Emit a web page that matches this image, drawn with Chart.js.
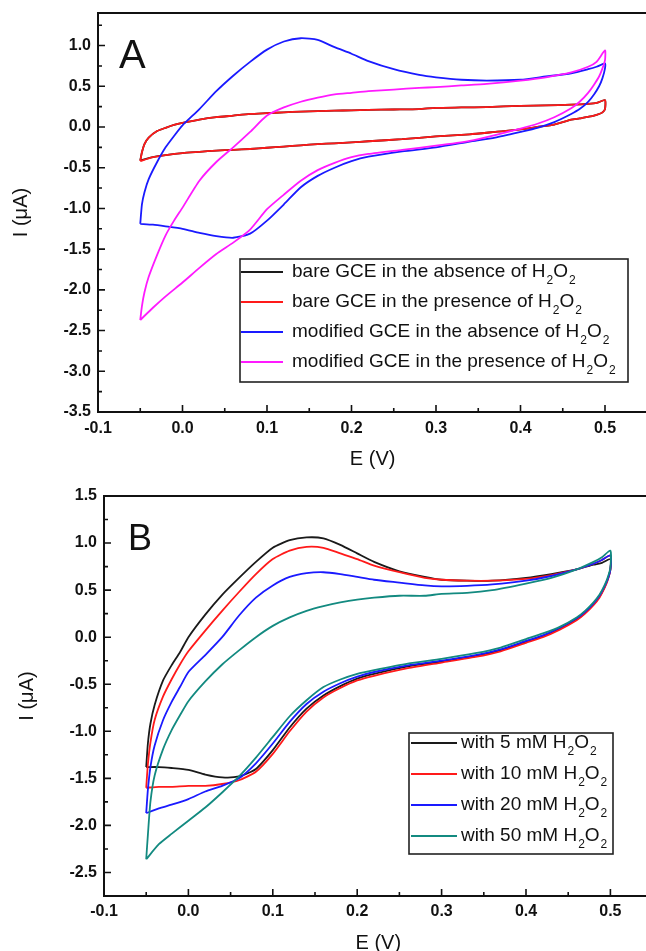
<!DOCTYPE html>
<html>
<head>
<meta charset="utf-8">
<script src="https://cdn.jsdelivr.net/npm/chart.js@4.4.1/dist/chart.umd.min.js"></script>
<style>
html,body{margin:0;padding:0;background:#fff;overflow:hidden;width:646px;height:951px;}
#wa{position:absolute;left:0;top:0;width:646px;height:475px;overflow:hidden;}
#wb{position:absolute;left:0;top:475px;width:646px;height:476px;overflow:hidden;}
canvas{display:block;}
</style>
</head>
<body>
<div id="wa"><canvas id="ca" width="648" height="475" style="width:648px;height:475px"></canvas></div>
<div id="wb"><canvas id="cb" width="653" height="490" style="width:653px;height:490px"></canvas></div>
<script>
// ---------- potential grids (V) ----------
const E_fwd = [-0.05,-0.048,-0.045,-0.04,-0.03,-0.02,-0.01,0.0,0.02,0.04,0.06,0.08,0.1,0.12,0.14,0.16,0.18,0.2,0.22,0.25,0.28,0.3,0.33,0.36,0.4,0.43,0.46,0.48,0.49,0.5];
const E_rev = [0.5,0.497,0.493,0.487,0.48,0.47,0.46,0.44,0.42,0.4,0.37,0.34,0.3,0.26,0.22,0.2,0.18,0.16,0.14,0.12,0.1,0.08,0.06,0.04,0.02,0.0,-0.02,-0.035,-0.05];

// ---------- Panel A currents (µA) ----------
const A_labels = ['bare GCE in the absence of H₂O₂','bare GCE in the presence of H₂O₂','modified GCE in the absence of H₂O₂','modified GCE in the presence of H₂O₂'];
const A_bareAbs_fwd = [-0.41,-0.31,-0.21,-0.13,-0.05,-0.01,0.025,0.05,0.09,0.12,0.14,0.16,0.17,0.18,0.19,0.195,0.2,0.205,0.21,0.215,0.22,0.235,0.24,0.245,0.26,0.265,0.275,0.285,0.295,0.33];
const A_bareAbs_rev = [0.22,0.18,0.16,0.14,0.125,0.105,0.09,0.03,0.0,-0.03,-0.06,-0.09,-0.115,-0.15,-0.175,-0.19,-0.2,-0.21,-0.225,-0.24,-0.255,-0.27,-0.28,-0.29,-0.305,-0.32,-0.345,-0.37,-0.41];
const A_barePres_fwd = [-0.42,-0.31,-0.21,-0.13,-0.05,-0.01,0.025,0.05,0.09,0.12,0.14,0.16,0.17,0.18,0.19,0.195,0.2,0.205,0.21,0.215,0.22,0.235,0.24,0.245,0.26,0.265,0.275,0.285,0.295,0.33];
const A_barePres_rev = [0.22,0.18,0.16,0.14,0.125,0.105,0.09,0.03,0.0,-0.03,-0.06,-0.09,-0.115,-0.15,-0.175,-0.19,-0.2,-0.21,-0.225,-0.24,-0.255,-0.27,-0.28,-0.29,-0.305,-0.32,-0.345,-0.37,-0.42];
const A_modAbs_fwd = [-1.19,-0.95,-0.8,-0.64,-0.43,-0.25,-0.11,0.02,0.22,0.44,0.63,0.8,0.95,1.05,1.09,1.07,0.98,0.9,0.81,0.71,0.64,0.61,0.58,0.57,0.58,0.62,0.66,0.71,0.74,0.78];
const A_modAbs_rev = [0.72,0.6,0.5,0.4,0.31,0.22,0.16,0.06,-0.01,-0.06,-0.13,-0.18,-0.25,-0.3,-0.365,-0.42,-0.5,-0.6,-0.74,-0.95,-1.15,-1.31,-1.36,-1.34,-1.3,-1.25,-1.22,-1.2,-1.19];
const A_modPres_fwd = [-2.37,-2.2,-2.03,-1.84,-1.57,-1.33,-1.15,-0.99,-0.66,-0.43,-0.25,-0.06,0.14,0.24,0.31,0.36,0.4,0.42,0.44,0.46,0.48,0.49,0.51,0.53,0.57,0.61,0.67,0.74,0.8,0.94];
const A_modPres_rev = [0.82,0.72,0.62,0.52,0.42,0.31,0.23,0.12,0.04,-0.02,-0.1,-0.17,-0.23,-0.28,-0.33,-0.37,-0.44,-0.53,-0.66,-0.83,-1.01,-1.26,-1.42,-1.56,-1.73,-1.91,-2.08,-2.22,-2.37];

// ---------- Panel B currents (µA) ----------
const B_labels = ['with 5 mM H₂O₂','with 10 mM H₂O₂','with 20 mM H₂O₂','with 50 mM H₂O₂'];
const B_5_fwd = [-1.38,-1.13,-0.92,-0.72,-0.46,-0.3,-0.16,0.0,0.24,0.45,0.63,0.8,0.95,1.03,1.06,1.05,0.98,0.89,0.8,0.7,0.64,0.61,0.6,0.6,0.63,0.67,0.72,0.77,0.79,0.83];
const B_5_rev = [0.72,0.62,0.53,0.43,0.35,0.26,0.19,0.09,0.01,-0.05,-0.14,-0.2,-0.26,-0.31,-0.39,-0.44,-0.52,-0.62,-0.76,-0.96,-1.2,-1.4,-1.48,-1.49,-1.46,-1.41,-1.39,-1.38,-1.38];
const B_10_fwd = [-1.6,-1.35,-1.12,-0.88,-0.63,-0.45,-0.29,-0.15,0.07,0.28,0.48,0.67,0.83,0.92,0.96,0.95,0.89,0.83,0.76,0.69,0.63,0.61,0.6,0.6,0.62,0.66,0.72,0.78,0.82,0.87];
const B_10_rev = [0.72,0.61,0.52,0.42,0.34,0.25,0.18,0.08,0.0,-0.06,-0.15,-0.21,-0.27,-0.33,-0.41,-0.46,-0.54,-0.64,-0.79,-1.0,-1.24,-1.43,-1.52,-1.56,-1.58,-1.58,-1.59,-1.59,-1.6];
const B_20_fwd = [-1.87,-1.62,-1.38,-1.15,-0.88,-0.69,-0.53,-0.37,-0.19,0.0,0.23,0.42,0.55,0.64,0.68,0.69,0.67,0.64,0.61,0.58,0.55,0.54,0.545,0.56,0.6,0.65,0.72,0.78,0.82,0.87];
const B_20_rev = [0.72,0.62,0.54,0.44,0.36,0.27,0.2,0.1,0.02,-0.04,-0.13,-0.19,-0.25,-0.3,-0.37,-0.42,-0.49,-0.58,-0.71,-0.9,-1.13,-1.34,-1.5,-1.58,-1.64,-1.72,-1.78,-1.82,-1.87];
const B_50_fwd = [-2.36,-2.1,-1.75,-1.47,-1.19,-0.99,-0.83,-0.68,-0.47,-0.29,-0.14,0.0,0.12,0.21,0.28,0.33,0.37,0.4,0.42,0.44,0.44,0.46,0.47,0.5,0.57,0.63,0.72,0.8,0.85,0.92];
const B_50_rev = [0.74,0.64,0.55,0.45,0.37,0.28,0.21,0.11,0.04,-0.02,-0.11,-0.17,-0.23,-0.28,-0.35,-0.39,-0.45,-0.53,-0.67,-0.84,-1.06,-1.28,-1.48,-1.65,-1.81,-1.95,-2.09,-2.2,-2.36];

// ---------- axis settings ----------
const A_xRange = [-0.1, 0.55];
const A_yRange = [-3.5, 1.4];
const B_xRange = [-0.1, 0.55];
const B_yRange = [-2.75, 1.5];
const xTitle = 'E (V)';
const yTitle = 'I (μA)';

// ---------- helpers ----------
function loop(fwd, rev) {
  const pts = [];
  E_fwd.forEach((e, i) => pts.push({x: e, y: fwd[i]}));
  E_rev.forEach((e, i) => pts.push({x: e, y: rev[i]}));
  return pts;
}
function isMult(v, s) { const q = v / s; return Math.abs(q - Math.round(q)) < 1e-6; }
function splitSub(label) {
  const map = {'₀':'0','₁':'1','₂':'2','₃':'3','₄':'4','₅':'5','₆':'6','₇':'7','₈':'8','₉':'9'};
  const parts = [];
  for (const ch of label) {
    const sub = ch in map;
    const t = sub ? map[ch] : ch;
    if (parts.length && parts[parts.length-1].sub === sub) parts[parts.length-1].t += t;
    else parts.push({t, sub});
  }
  return parts;
}

Chart.defaults.font.family = '"Liberation Sans", Arial, Helvetica, sans-serif';
Chart.defaults.color = '#111';

const framePlugin = {
  id: 'frameTicks',
  afterDraw(chart, args, o) {
    const {ctx, chartArea: ca, scales} = chart;
    ctx.save();
    ctx.strokeStyle = '#111';
    ctx.lineWidth = 2;
    ctx.strokeRect(ca.left, ca.top, ca.right - ca.left, ca.bottom - ca.top);
    ctx.lineWidth = 1.6;
    ctx.beginPath();
    scales.x.ticks.forEach(t => {
      const px = scales.x.getPixelForValue(t.value);
      const len = isMult(t.value, 0.1) ? 7 : 4;
      ctx.moveTo(px, ca.bottom); ctx.lineTo(px, ca.bottom - len);
    });
    scales.y.ticks.forEach(t => {
      const py = scales.y.getPixelForValue(t.value);
      const len = isMult(t.value, 0.5) ? 7 : 4;
      ctx.moveTo(ca.left, py); ctx.lineTo(ca.left + len, py);
    });
    ctx.stroke();
    ctx.restore();
  }
};

const legendPlugin = {
  id: 'boxLegend',
  afterDraw(chart, args, o) {
    const ctx = chart.ctx;
    ctx.save();
    ctx.fillStyle = '#fff';
    ctx.fillRect(o.left, o.top, o.right - o.left, o.bottom - o.top);
    ctx.strokeStyle = '#222';
    ctx.lineWidth = 1.6;
    ctx.strokeRect(o.left, o.top, o.right - o.left, o.bottom - o.top);
    chart.data.datasets.forEach((ds, i) => {
      const y = o.top + o.firstRow + i * o.rowGap;
      ctx.strokeStyle = ds.borderColor;
      ctx.lineWidth = 2;
      ctx.beginPath(); ctx.moveTo(o.lineX0, y); ctx.lineTo(o.lineX1, y); ctx.stroke();
      let x = o.textX;
      ctx.fillStyle = '#111';
      ctx.textBaseline = 'middle';
      ctx.textAlign = 'left';
      for (const p of splitSub(ds.label)) {
        if (p.sub) {
          ctx.font = o.subSize + 'px "Liberation Sans", Arial, sans-serif';
          ctx.fillText(p.t, x + 1, y + o.subDrop);
          x += ctx.measureText(p.t).width + 1;
        } else {
          ctx.font = o.fontSize + 'px "Liberation Sans", Arial, sans-serif';
          ctx.fillText(p.t, x, y);
          x += ctx.measureText(p.t).width;
        }
      }
    });
    ctx.restore();
  }
};

const letterPlugin = {
  id: 'panelLetter',
  afterDraw(chart, args, o) {
    const ctx = chart.ctx;
    ctx.save();
    ctx.fillStyle = '#111';
    ctx.font = o.size + 'px "Liberation Sans", Arial, sans-serif';
    ctx.textBaseline = 'alphabetic';
    ctx.textAlign = 'left';
    ctx.fillText(o.text, o.x, o.y);
    ctx.restore();
  }
};

function makeScales(xr, yr, yWidth, xHeight, yTitlePad, xTitlePad, xTickPad) {
  return {
    x: {
      type: 'linear', min: xr[0], max: xr[1],
      grid: {display: false, drawTicks: false, drawOnChartArea: false},
      border: {display: false},
      ticks: {
        stepSize: 0.05, includeBounds: false, autoSkip: false, maxRotation: 0, padding: xTickPad,
        font: {size: 16, weight: 'bold'}, color: '#111',
        callback: v => isMult(v, 0.1) ? v.toFixed(1) : ''
      },
      title: {display: true, text: xTitle, font: {size: 20}, color: '#111', padding: {top: 0, bottom: xTitlePad}},
      afterFit: s => { s.height = xHeight; s.paddingLeft = 0; s.paddingRight = 0; }
    },
    y: {
      type: 'linear', min: yr[0], max: yr[1],
      grid: {display: false, drawTicks: false, drawOnChartArea: false},
      border: {display: false},
      ticks: {
        stepSize: 0.25, includeBounds: false, autoSkip: false, padding: 7,
        font: {size: 16, weight: 'bold'}, color: '#111',
        callback: v => isMult(v, 0.5) ? v.toFixed(1) : ''
      },
      title: {display: true, text: yTitle, font: {size: 20}, color: '#111', padding: {top: yTitlePad, bottom: 0}},
      afterFit: s => { s.width = yWidth; s.paddingTop = 0; s.paddingBottom = 0; }
    }
  };
}

function ds(label, color, data, order) {
  return {label, data, borderColor: color, backgroundColor: color, borderWidth: 1.8,
          showLine: true, pointRadius: 0, tension: 0.2, fill: false, order};
}

new Chart(document.getElementById('ca'), {
  type: 'scatter',
  data: {
    datasets: [
      ds(A_labels[0], '#1a1a1a', loop(A_bareAbs_fwd, A_bareAbs_rev), 4),
      ds(A_labels[1], '#ff1a1a', loop(A_barePres_fwd, A_barePres_rev), 3),
      ds(A_labels[2], '#1a1aff', loop(A_modAbs_fwd, A_modAbs_rev), 2),
      ds(A_labels[3], '#ff1aff', loop(A_modPres_fwd, A_modPres_rev), 1)
    ]
  },
  options: {
    responsive: false, animation: false, events: [],
    layout: {padding: {top: 13, right: 0.75, bottom: 0, left: 0}},
    scales: makeScales(A_xRange, A_yRange, 98, 63, 9, 4, 7),
    plugins: {
      legend: {display: false}, tooltip: {enabled: false},
      boxLegend: {left: 240, top: 259, right: 628, bottom: 382, firstRow: 13, rowGap: 30,
                  lineX0: 241, lineX1: 283, textX: 292, fontSize: 19, subSize: 12, subDrop: 9},
      panelLetter: {text: 'A', x: 119, y: 68, size: 40}
    }
  },
  plugins: [framePlugin, legendPlugin, letterPlugin]
});

new Chart(document.getElementById('cb'), {
  type: 'scatter',
  data: {
    datasets: [
      ds(B_labels[0], '#1a1a1a', loop(B_5_fwd, B_5_rev), 4),
      ds(B_labels[1], '#ff1a1a', loop(B_10_fwd, B_10_rev), 3),
      ds(B_labels[2], '#1a1aff', loop(B_20_fwd, B_20_rev), 2),
      ds(B_labels[3], '#138a80', loop(B_50_fwd, B_50_rev), 1)
    ]
  },
  options: {
    responsive: false, animation: false, events: [],
    layout: {padding: {top: 21, right: 0.4, bottom: 0, left: 0}},
    scales: makeScales(B_xRange, B_yRange, 104, 69, 15, 10, 6),
    plugins: {
      legend: {display: false}, tooltip: {enabled: false},
      boxLegend: {left: 409, top: 258, right: 613, bottom: 379, firstRow: 10, rowGap: 31,
                  lineX0: 411, lineX1: 457, textX: 461, fontSize: 19, subSize: 12, subDrop: 9},
      panelLetter: {text: 'B', x: 128, y: 75, size: 36}
    }
  },
  plugins: [framePlugin, legendPlugin, letterPlugin]
});
</script>
</body>
</html>
